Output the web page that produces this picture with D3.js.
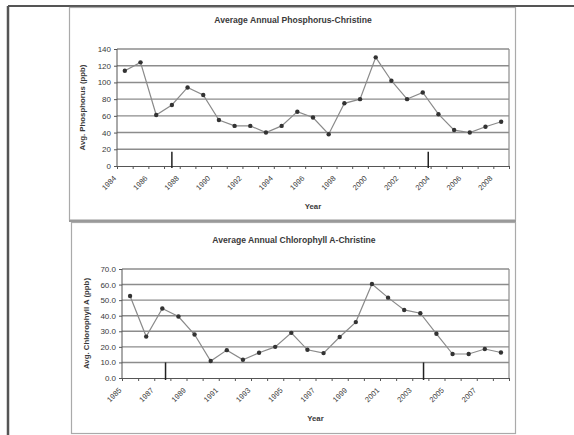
<!DOCTYPE html>
<meta charset="utf-8">
<style>
body { margin: 0; background: #fff; }
svg { display: block; font-family: "Liberation Sans", Arial, sans-serif; }
.grid line { stroke: #8c8c8c; stroke-width: 1.4px; }
.axis path, .axis line { stroke: #555; }
.axis text { fill: #3a3a3a; font-size: 8px; }
.series { fill: none; stroke: #8a8a8a; stroke-width: 1.2px; }
.dot { fill: #333; }
.mark { stroke: #222; stroke-width: 1.5px; }
.title { font-size: 8.6px; font-weight: bold; fill: #3a3a3a; }
.axtitle { font-size: 7.8px; font-weight: bold; fill: #3a3a3a; }
</style>
<svg width="574" height="435"></svg>
<script src="https://d3js.org/d3.v7.min.js"></script>
<script>

// phosphorus, 1984-2008
var phosYears = d3.range(1984, 2009);
var phosValues = [114, 124, 61, 73, 94, 85, 55, 48, 48, 40, 48, 65, 58, 38,
                  75, 80, 130, 102, 80, 88, 62, 43, 40, 47, 53];
var phosTicks = [0, 20, 40, 60, 80, 100, 120, 140];
var phosLabels = d3.range(1984, 2009, 2);
var phosMarks = [1987, 2003.35];

// chlorophyll a, 1985-2008
var chlYears = d3.range(1985, 2009);
var chlValues = [52.7, 26.6, 44.6, 39.5, 27.9, 10.9, 17.9, 11.7, 16.2, 20.0,
                 29.0, 18.1, 16.0, 26.3, 35.9, 60.4, 51.6, 43.7, 41.6, 28.4,
                 15.4, 15.4, 18.6, 16.4];
var chlTicks = [0, 10, 20, 30, 40, 50, 60, 70];
var chlLabels = d3.range(1985, 2008, 2);
var chlMarks = [1987.2, 2003.2];

var svg = d3.select("svg");

// scanned page frame
svg.append("line").attr("x1", 8).attr("x2", 574).attr("y1", 6).attr("y2", 6)
    .attr("stroke", "#555").attr("stroke-width", 2);
svg.append("line").attr("x1", 8).attr("x2", 8).attr("y1", 6).attr("y2", 435)
    .attr("stroke", "#555").attr("stroke-width", 2.5);
svg.append("rect").attr("x", 69.5).attr("y", 7.5).attr("width", 446).attr("height", 212.5)
    .attr("fill", "none").attr("stroke", "#aaa").attr("stroke-width", 1.2);
svg.append("line").attr("x1", 69).attr("x2", 516).attr("y1", 221).attr("y2", 221)
    .attr("stroke", "#999").attr("stroke-width", 2);
svg.append("rect").attr("x", 71.5).attr("y", 222.5).attr("width", 444).attr("height", 211)
    .attr("fill", "none").attr("stroke", "#aaa").attr("stroke-width", 1.2);

function drawChart(o) {
  var g = svg.append("g");
  var x = d3.scaleLinear()
      .domain([o.years[0] - 0.5, o.years[o.years.length - 1] + 0.5])
      .range([o.left, o.right]);
  var y = d3.scaleLinear().domain([0, d3.max(o.ticks)]).range([o.bottom, o.top]);

  g.append("g").attr("class", "grid")
    .selectAll("line").data(o.ticks.slice(1)).enter().append("line")
      .attr("x1", o.left).attr("x2", o.right)
      .attr("y1", function(d) { return y(d); })
      .attr("y2", function(d) { return y(d); });

  g.append("line").attr("x1", o.right).attr("x2", o.right)
      .attr("y1", o.top).attr("y2", o.bottom)
      .attr("stroke", "#8c8c8c").attr("stroke-width", 1.2);

  g.append("g").attr("class", "axis")
      .attr("transform", "translate(" + o.left + ",0)")
      .call(d3.axisLeft(y).tickValues(o.ticks).tickSize(3).tickPadding(3)
        .tickFormat(d3.format(o.fmt)))
      .call(function(a) { a.select(".domain").attr("d", "M0," + o.top + "V" + o.bottom); });

  var bounds = o.years.map(function(d) { return d - 0.5; }).concat([o.years[o.years.length - 1] + 0.5]);
  g.append("g").attr("class", "axis")
      .attr("transform", "translate(0," + o.bottom + ")")
      .call(d3.axisBottom(x).tickValues(bounds).tickSize(3).tickSizeOuter(0).tickFormat(""));

  g.append("g").selectAll("text").data(o.labels).enter().append("text")
      .attr("transform", function(d) {
        return "translate(" + (x(d) - 10) + "," + (o.bottom + 11) + ") rotate(-45)";
      })
      .attr("text-anchor", "end").attr("dy", "0.35em")
      .style("font-size", "7.5px").style("fill", "#3a3a3a")
      .text(function(d) { return d; });

  var line = d3.line()
      .x(function(d, i) { return x(o.years[i]); })
      .y(function(d) { return y(d); });
  g.append("path").attr("class", "series").attr("d", line(o.values));

  g.append("g").selectAll("circle").data(o.values).enter().append("circle")
      .attr("class", "dot")
      .attr("cx", function(d, i) { return x(o.years[i]); })
      .attr("cy", function(d) { return y(d); })
      .attr("r", 2.2);

  g.append("g").selectAll("line").data(o.marks).enter().append("line")
      .attr("class", "mark")
      .attr("x1", function(d) { return x(d); }).attr("x2", function(d) { return x(d); })
      .attr("y1", y(o.markTop)).attr("y2", o.bottom + 2);

  g.append("text").attr("class", "title")
      .attr("x", o.titleX).attr("y", o.titleY).attr("text-anchor", "middle")
      .text(o.title);

  g.append("text").attr("class", "axtitle")
      .attr("transform", "translate(" + o.ytX + "," + ((o.top + o.bottom) / 2) + ") rotate(-90)")
      .attr("text-anchor", "middle")
      .text(o.ytitle);

  g.append("text").attr("class", "axtitle")
      .attr("x", (o.left + o.right) / 2).attr("y", o.bottom + 43)
      .attr("text-anchor", "middle")
      .text("Year");
}

drawChart({
  years: phosYears, values: phosValues, ticks: phosTicks, labels: phosLabels,
  marks: phosMarks, markTop: 17, fmt: "d",
  left: 117, right: 509, top: 49, bottom: 166,
  title: "Average Annual Phosphorus-Christine", titleX: 293, titleY: 23,
  ytitle: "Avg. Phosphorus (ppb)", ytX: 85
});

drawChart({
  years: chlYears, values: chlValues, ticks: chlTicks, labels: chlLabels,
  marks: chlMarks, markTop: 10, fmt: ".1f",
  left: 122, right: 509, top: 269, bottom: 378,
  title: "Average Annual Chlorophyll A-Christine", titleX: 294, titleY: 243,
  ytitle: "Avg. Chlorophyll A (ppb)", ytX: 89
});

</script>
